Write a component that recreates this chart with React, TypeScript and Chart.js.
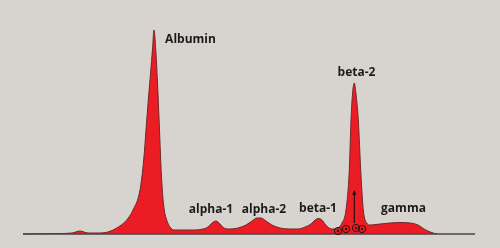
import React, { useEffect, useRef } from "react";
import { Chart, registerables } from "chart.js";

Chart.register(...registerables);

// Densitometer trace: x position, height above baseline
const traceX = [23, 60, 72, 80, 88, 100, 108, 116.7, 126.7, 133, 140, 143.7, 146, 148.3, 150.5, 152.5, 154, 156, 158, 159.5, 160.7, 162.3, 164.3, 166.7, 170, 174, 185, 195, 203, 208, 212, 216, 220, 224, 230, 238, 246, 252, 257, 261, 266, 272, 280, 290, 298, 305, 311, 315, 319, 322, 325, 329, 334, 338, 342, 346, 349.3, 351, 352.5, 354.3, 356, 358.3, 360.7, 363.3, 366.7, 370, 380, 390, 400, 410, 418, 424, 429, 433, 437];
const traceH = [0, 0.5, 1, 3, 1, 1, 2, 6, 14, 24, 44, 74, 104, 134, 160, 185, 204, 180, 140, 104, 74, 44, 24, 14, 7, 4, 4, 4, 5, 7, 11, 13, 10, 6, 5, 6, 9, 13, 16, 16, 13, 9, 6, 5, 5, 7, 10, 14, 15.5, 14, 10, 6, 5, 6, 11, 24, 64, 114, 140, 151, 140, 114, 64, 24, 11, 9, 10, 11, 11.5, 11, 9, 5, 2.5, 1, 0];
const baseX = [23, 475];

// Fraction labels: text, anchor x, anchor height
const labelNames = ["Albumin", "alpha-1", "alpha-2", "beta-1", "beta-2", "gamma"];
const labelX = [190.5, 211, 264, 318, 356.5, 403.5];
const labelH = [194, 24, 24, 25, 161, 25];

// Marker at beta-2: arrow x, arrow from/to heights; circle markers
const arrowX = 354.3;
const arrowH = [11, 44];
const circleX = [338, 346, 356, 362];
const circleH = [3, 5, 6, 5];

export default function App() {
  const ref = useRef<HTMLCanvasElement | null>(null);

  useEffect(() => {
    document.body.style.margin = "0";
    const canvas = ref.current;
    if (!canvas) return;

    const decor = {
      id: "decor",
      beforeDraw(chart: any) {
        const ctx = chart.ctx;
        ctx.save();
        ctx.fillStyle = "#d7d4cf";
        ctx.fillRect(0, 0, chart.width, chart.height);
        ctx.restore();
      },
      afterDatasetsDraw(chart: any) {
        const ctx = chart.ctx;
        const xs = chart.scales.x;
        const ys = chart.scales.y;
        ctx.save();
        // arrow
        const ax = xs.getPixelForValue(arrowX);
        const y0 = ys.getPixelForValue(arrowH[0]);
        const y1 = ys.getPixelForValue(arrowH[1]);
        ctx.strokeStyle = "#2a1010";
        ctx.fillStyle = "#2a1010";
        ctx.lineWidth = 1.2;
        ctx.beginPath();
        ctx.moveTo(ax, y0);
        ctx.lineTo(ax, y1 + 4);
        ctx.stroke();
        ctx.beginPath();
        ctx.moveTo(ax, y1);
        ctx.lineTo(ax - 2.2, y1 + 5);
        ctx.lineTo(ax + 2.2, y1 + 5);
        ctx.closePath();
        ctx.fill();
        // circles
        for (let i = 0; i < circleX.length; i++) {
          const cx = xs.getPixelForValue(circleX[i]);
          const cy = ys.getPixelForValue(circleH[i]);
          ctx.beginPath();
          ctx.arc(cx, cy, 3.6, 0, Math.PI * 2);
          ctx.lineWidth = 1;
          ctx.stroke();
          ctx.beginPath();
          ctx.arc(cx, cy, 1.2, 0, Math.PI * 2);
          ctx.fill();
        }
        // labels
        ctx.fillStyle = "#1c1a1a";
        ctx.font = "bold 12px 'Open Sans'";
        ctx.textAlign = "center";
        ctx.textBaseline = "middle";
        for (let i = 0; i < labelNames.length; i++) {
          ctx.fillText(labelNames[i], xs.getPixelForValue(labelX[i]), ys.getPixelForValue(labelH[i]));
        }
        ctx.restore();
      },
    };

    const chart = new Chart(canvas, {
      type: "line",
      data: {
        datasets: [
          {
            data: baseX.map((x) => ({ x, y: 0 })),
            borderColor: "#4a4545",
            borderWidth: 1.3,
            pointRadius: 0,
            fill: false,
          },
          {
            data: traceX.map((x, i) => ({ x, y: traceH[i] })),
            borderColor: "#6e2a2a",
            borderWidth: 1,
            backgroundColor: "#ec1c24",
            pointRadius: 0,
            fill: "origin",
            cubicInterpolationMode: "monotone",
          },
        ],
      },
      options: {
        responsive: false,
        animation: false,
        devicePixelRatio: 1,
        layout: { padding: 0 },
        plugins: { legend: { display: false }, tooltip: { enabled: false } },
        scales: {
          x: { type: "linear", min: 0, max: 500, display: false },
          y: { type: "linear", min: -14, max: 234, display: false },
        },
      },
      plugins: [decor],
    });
    return () => chart.destroy();
  }, []);

  return (
    <div style={{ position: "fixed", left: 0, top: 0, width: 500, height: 248 }}>
      <canvas ref={ref} width={500} height={248} />
    </div>
  );
}
